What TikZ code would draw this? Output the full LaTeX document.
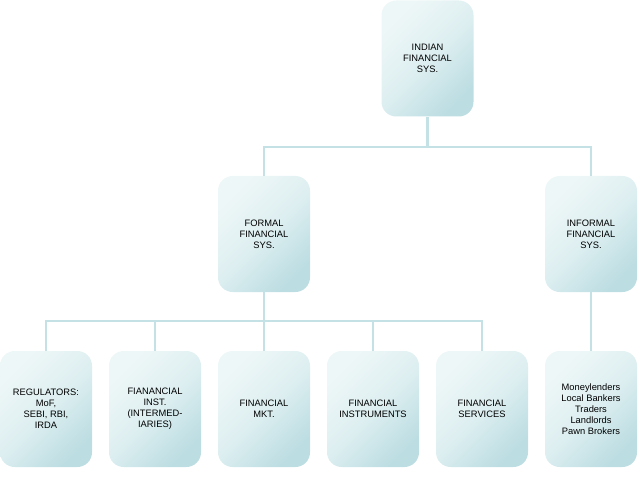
\documentclass[tikz,border=0pt]{standalone}
\usepackage{fontspec}
\setmainfont{Liberation Sans}
\definecolor{boxlight}{RGB}{238,247,247}
\definecolor{boxmid}{RGB}{222,239,241}
\definecolor{boxdark}{RGB}{188,221,226}
\definecolor{linkcol}{RGB}{196,226,230}
\begin{document}
\begin{tikzpicture}[x=0.75pt, y=0.75pt,
    sysbox/.style={rounded corners=11pt, top color=boxlight, bottom color=boxdark, middle color=boxmid, shading angle=45, minimum width=69pt, minimum height=87pt, align=center, inner sep=2pt, font=\fontsize{7}{8.3}\selectfont},
    link/.style={draw=linkcol, line width=2.2pt}]
    \useasboundingbox (0,0) rectangle (638,479);

    \node (indian) [sysbox] at (427.5,420.5) {INDIAN\\FINANCIAL\\SYS.};
    \node (formal) [sysbox] at (264,245) {FORMAL\\FINANCIAL\\SYS.};
    \node (informal) [sysbox] at (591,245) {INFORMAL\\FINANCIAL\\SYS.};

    \node (regul) [sysbox] at (46,70) {REGULATORS:\\MoF,\\SEBI, RBI,\\IRDA};
    \node (inst) [sysbox] at (155,70) {FIANANCIAL\\INST.\\(INTERMED-\\IARIES)};
    \node (mkt) [sysbox] at (264,70) {FINANCIAL\\MKT.};
    \node (instr) [sysbox] at (373,70) {FINANCIAL\\INSTRUMENTS};
    \node (serv) [sysbox] at (482,70) {FINANCIAL\\SERVICES};
    \node (lenders) [sysbox] at (591,70) {Moneylenders\\Local Bankers\\Traders\\Landlords\\Pawn Brokers};

    \coordinate (bus1) at (427.5,332);
    \coordinate (bus2) at (264,158);

    \draw [link] (indian.south) -- (bus1);
    \draw [link] (formal.north) |- (bus1) -| (informal.north);
    \draw [link] (formal.south) -- (bus2);
    \draw [link] (regul.north) |- (bus2);
    \draw [link] (inst.north) |- (bus2);
    \draw [link] (mkt.north) -- (bus2);
    \draw [link] (instr.north) |- (bus2);
    \draw [link] (serv.north) |- (bus2);
    \draw [link] (informal.south) -- (lenders.north);
\end{tikzpicture}
\end{document}
